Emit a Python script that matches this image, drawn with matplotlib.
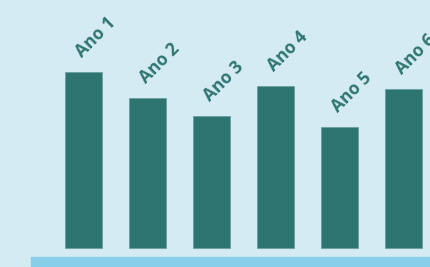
import matplotlib.pyplot as plt
from matplotlib.patches import Rectangle

# data
anos = ["Ano 1", "Ano 2", "Ano 3", "Ano 4", "Ano 5", "Ano 6"]
valores = [176, 150, 132, 162, 121, 159]

bg = "#d5ebf3"
teal = "#2e7572"
strip = "#87ceeb"

fig = plt.figure(figsize=(4.31, 2.67), dpi=100, facecolor=bg)
ax = fig.add_axes([0, 0, 1, 1])
ax.set_facecolor(bg)

x = list(range(len(anos)))
ax.bar(x, valores, width=0.578, color=teal, edgecolor="#5d9796", linewidth=0.4)

for xi, v, nome in zip(x, valores, anos):
    ax.text(xi - 0.02, v + 14, nome, rotation=45, rotation_mode="anchor",
            ha="left", va="baseline", fontsize=12.5, fontweight="bold",
            color=teal, family=["Open Sans", "DejaVu Sans"])

# x: bar 0 centre at px 83.2, 64 px per bar; y: baseline 19 px from bottom
ax.set_xlim(-83.2 / 64, (431 - 83.2) / 64)
ax.set_ylim(-19, 248)
ax.axis("off")

# blue strip along the bottom
fig.patches.append(Rectangle((30.7 / 431, 0), 1, 10 / 267, transform=fig.transFigure,
                             color=strip, zorder=5))

fig.savefig("out.png", dpi=100, facecolor=bg)
